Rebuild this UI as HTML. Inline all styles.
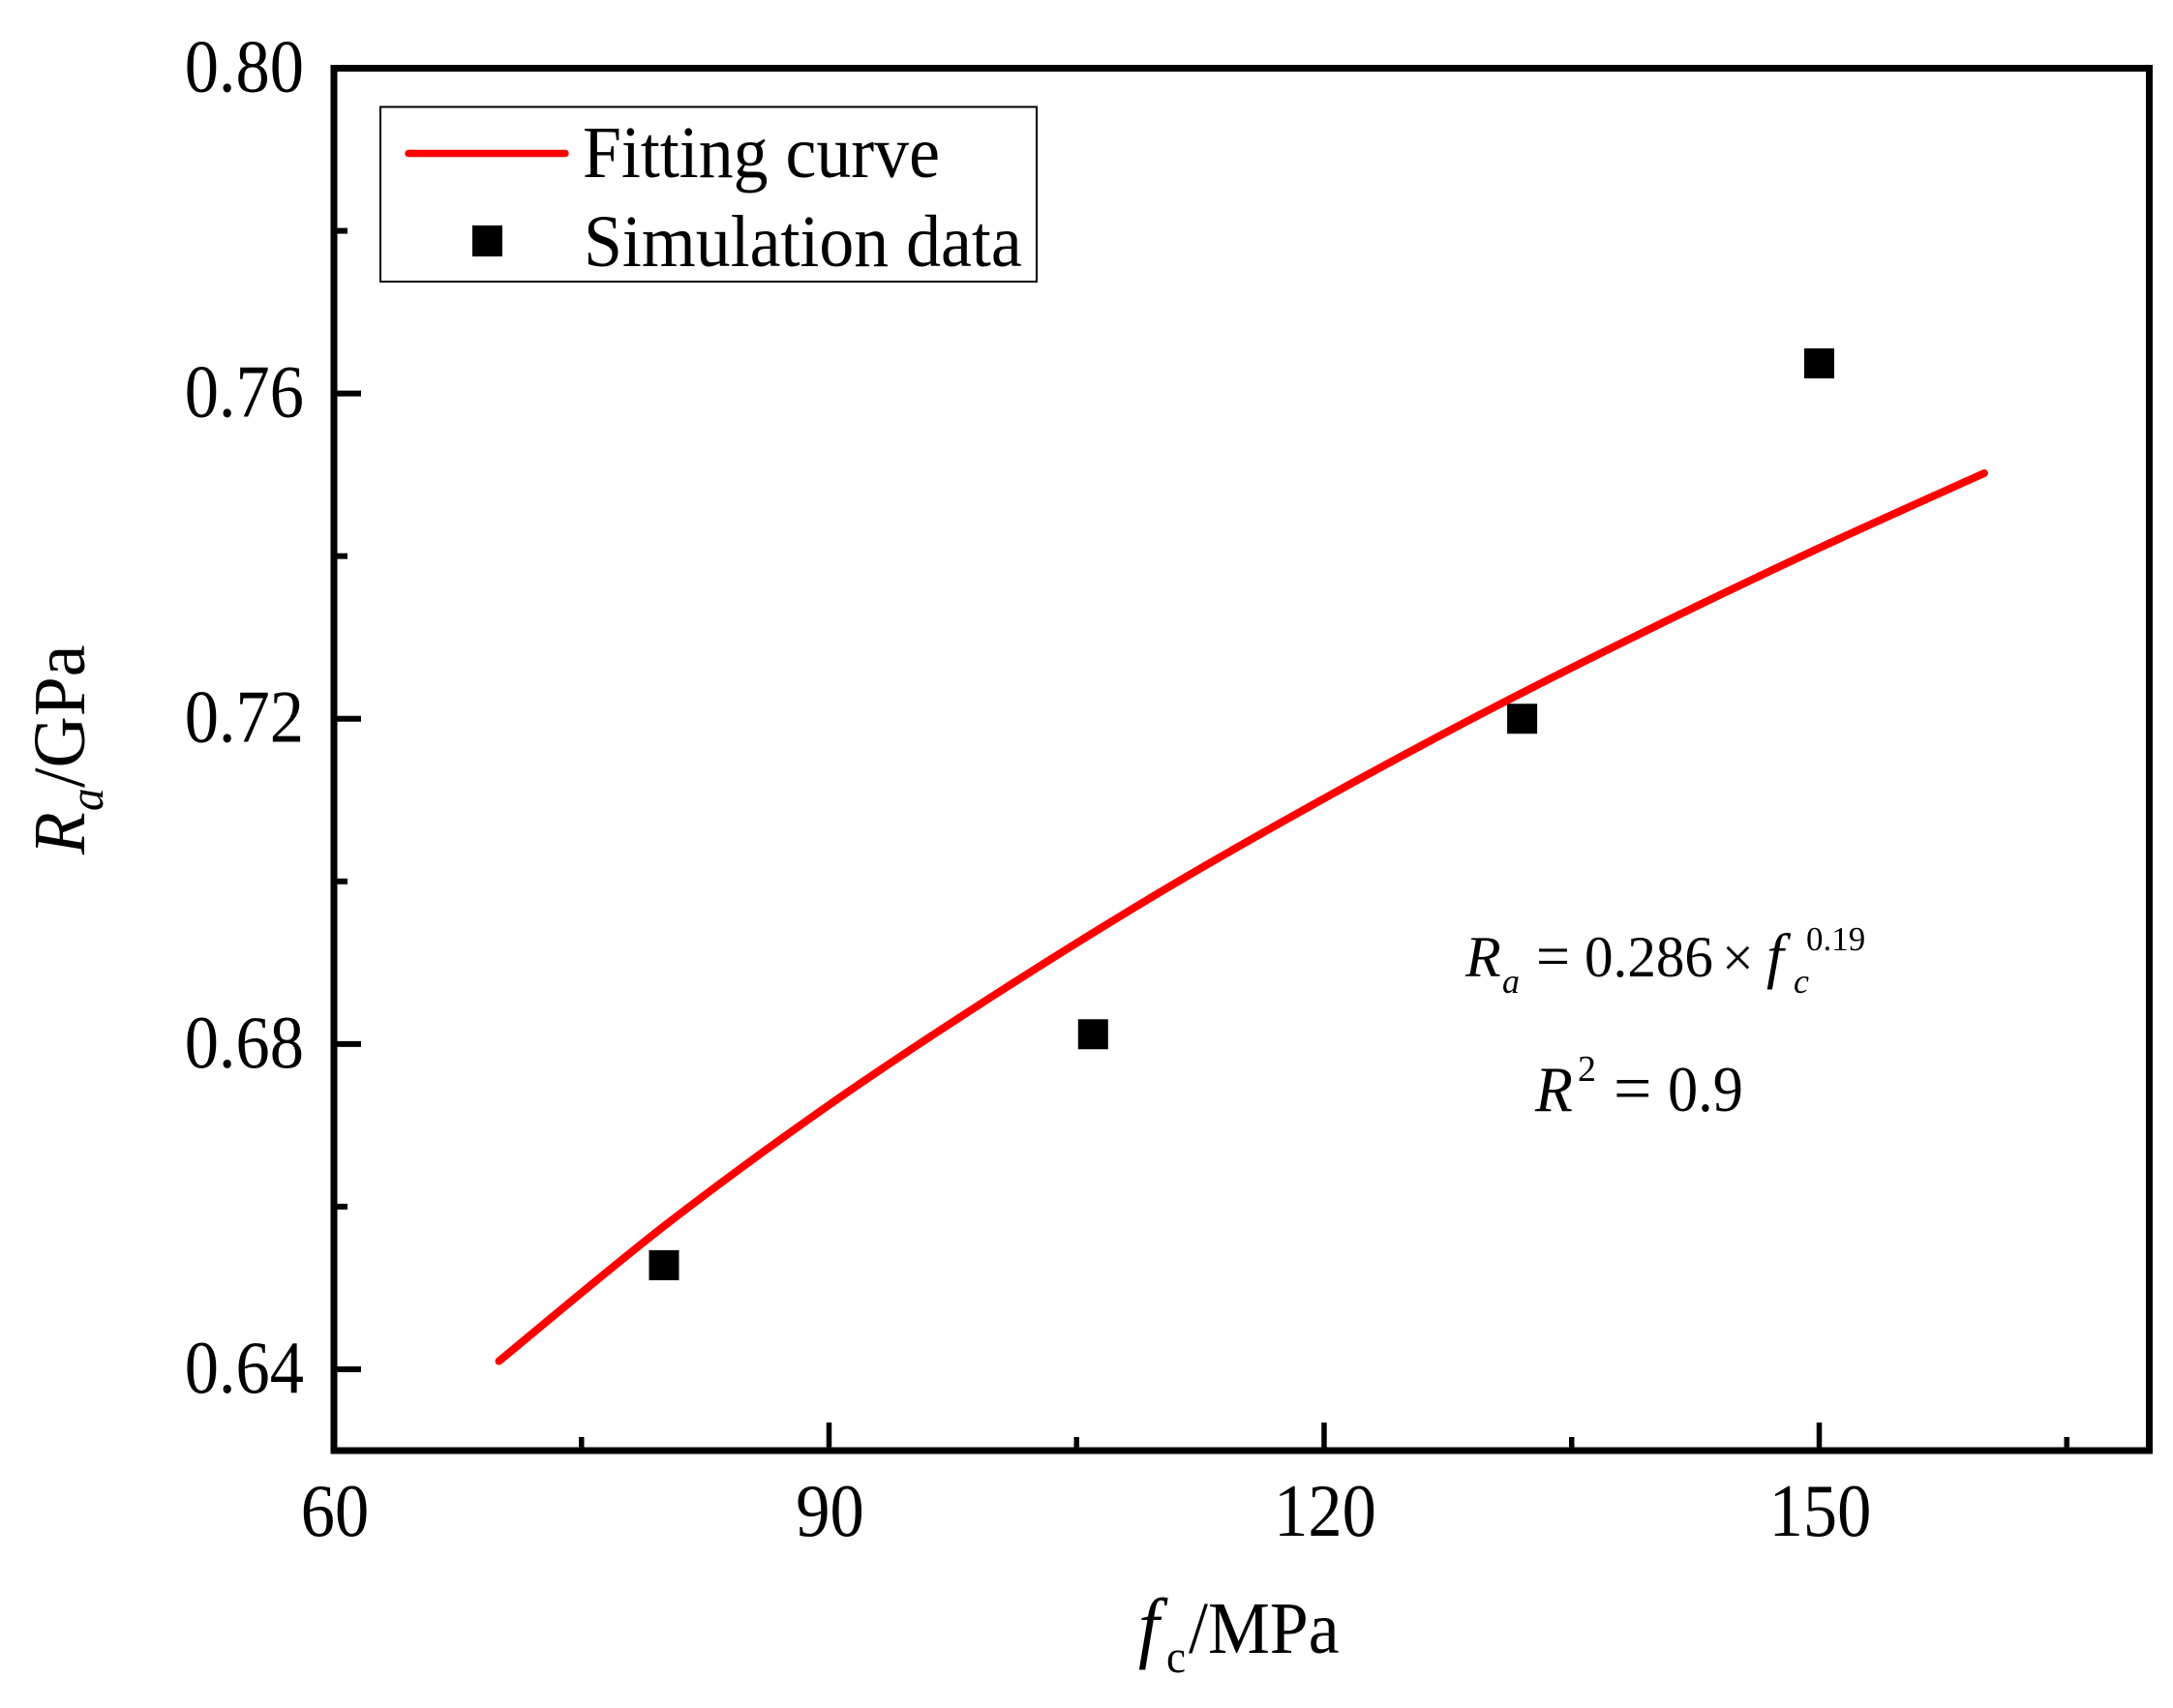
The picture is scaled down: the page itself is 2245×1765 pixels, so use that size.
<!DOCTYPE html>
<html lang="en">
<head>
<meta charset="utf-8">
<title>Ra vs fc fitting chart</title>
<style>
html,body{margin:0;padding:0;background:#fff;}
svg{display:block;}
text{font-family:"Liberation Serif","Times New Roman",serif;fill:#000;}
</style>
</head>
<body>
<svg id="chart" xmlns="http://www.w3.org/2000/svg" width="2245" height="1765" viewBox="0 0 2245 1765">
  <rect x="0" y="0" width="2245" height="1765" fill="#fff"/>
  <g id="ticks"></g>
  <g id="tick-labels"></g>
  <path id="fit-curve" fill="none" stroke="#ff0000" stroke-width="8" stroke-linecap="round" stroke-linejoin="round"/>
  <g id="points"></g>
  <rect x="345" y="70.5" width="1875.5" height="1428.5" fill="none" stroke="#000" stroke-width="7"/>

  <g>
    <rect x="393" y="110.5" width="678" height="180.5" fill="#fff" stroke="#000" stroke-width="2"/>
    <line x1="422" y1="158.5" x2="584" y2="158.5" stroke="#ff0000" stroke-width="7.5" stroke-linecap="round"/>
    <text transform="translate(602,183) scale(.945,1)" font-size="76">Fitting curve</text>
    <rect x="488" y="233" width="31" height="32" fill="#000"/>
    <text transform="translate(603,275) scale(.945,1)" font-size="76">Simulation data</text>
  </g>

  <g>
    <text transform="translate(1176,1708) scale(.95,1)" font-size="82" font-style="italic">f</text>
    <text transform="translate(1205,1728) scale(.94,1)" font-size="48">c</text>
    <text transform="translate(1228,1708) scale(.945,1)" font-size="76">/MPa</text>
  </g>

  <g>
    <text transform="translate(87,883) rotate(-90) scale(.94,1)" font-size="76" font-style="italic">R</text>
    <text transform="translate(106,838) rotate(-90) scale(.94,1)" font-size="50" font-style="italic">a</text>
    <text transform="translate(87,814) rotate(-90) scale(.97,1)" font-size="76">/GPa</text>
  </g>

  <g>
    <text transform="translate(1514,1009)" font-size="60" font-style="italic">R</text>
    <text transform="translate(1552,1026)" font-size="36" font-style="italic">a</text>
    <text transform="translate(1587,1009)" font-size="62">=</text>
    <text transform="translate(1637,1009) scale(.985,1)" font-size="60">0.286</text>
    <text transform="translate(1779,1009)" font-size="58">×</text>
    <text transform="translate(1825,1009)" font-size="64" font-style="italic">f</text>
    <text transform="translate(1853,1026)" font-size="36" font-style="italic">c</text>
    <text transform="translate(1866,982)" font-size="35">0.19</text>
  </g>

  <g>
    <text transform="translate(1586,1148) scale(.95,1)" font-size="67" font-style="italic">R</text>
    <text transform="translate(1630,1117)" font-size="38">2</text>
    <text transform="translate(1667,1148)" font-size="70">=</text>
    <text transform="translate(1723,1148) scale(.93,1)" font-size="67">0.9</text>
  </g>
</svg>
<script>
// Chart data
const xMajorTicks = [60, 90, 120, 150];
const xMinorTicks = [75, 105, 135, 165];
const yMajorTicks = [0.64, 0.68, 0.72, 0.76, 0.80];
const yMinorTicks = [0.66, 0.70, 0.74, 0.78];
const xTickLabels = ['60', '90', '120', '150'];
const yTickLabels = ['0.64', '0.68', '0.72', '0.76', '0.80'];
const simulationX = [80, 106, 132, 150];
const simulationY = [0.6528, 0.6812, 0.72, 0.7637];
const curveX = [70, 80, 90, 100, 110, 120, 130, 140, 150, 160];
const curveY = [0.641, 0.6576, 0.6725, 0.686, 0.6986, 0.7102, 0.7211, 0.7313, 0.741, 0.7502];

const NS = 'http://www.w3.org/2000/svg';
const xScale = v => 345 + (v - 60) * (2220.5 - 345) / (170 - 60);
const yScale = v => 1499 - (v - 0.63) * (1499 - 70.5) / (0.80 - 0.63);

const ticksGroup = document.getElementById('ticks');
const labelsGroup = document.getElementById('tick-labels');
const pointsGroup = document.getElementById('points');

function addLine(x1, y1, x2, y2, width) {
  const l = document.createElementNS(NS, 'line');
  l.setAttribute('x1', x1);
  l.setAttribute('y1', y1);
  l.setAttribute('x2', x2);
  l.setAttribute('y2', y2);
  l.setAttribute('stroke', '#000');
  l.setAttribute('stroke-width', width);
  ticksGroup.appendChild(l);
  return l;
}

function addLabel(text, x, y, anchor) {
  const t = document.createElementNS(NS, 'text');
  t.setAttribute('transform', 'translate(' + x + ',' + y + ') scale(.915,1)');
  t.setAttribute('font-size', '77');
  t.setAttribute('text-anchor', anchor);
  t.textContent = text;
  labelsGroup.appendChild(t);
  return t;
}

xMajorTicks.forEach((v, i) => {
  const tick = addLine(xScale(v), 1499, xScale(v), 1470, 5.5);
  
  
  const label = addLabel(xTickLabels[i], xScale(v) + 1, 1587, 'middle');
  
  
});
xMinorTicks.forEach(v => {
  const tick = addLine(xScale(v), 1499, xScale(v), 1485, 5.5);
  
  
});
yMajorTicks.forEach((v, i) => {
  const tick = addLine(345, yScale(v), 373, yScale(v), 6);
  
  
  const label = addLabel(yTickLabels[i], 314, yScale(v) + 24, 'end');
  
  
});
yMinorTicks.forEach(v => {
  const tick = addLine(345, yScale(v), 359, yScale(v), 6);
  
  
});

// Smooth path through the read curve values (Catmull-Rom to Bezier)
const pts = curveX.map((v, i) => [xScale(v), yScale(curveY[i])]);
let d = 'M' + pts[0][0] + ' ' + pts[0][1];
for (let i = 0; i < pts.length - 1; i++) {
  const p0 = pts[Math.max(i - 1, 0)];
  const p1 = pts[i];
  const p2 = pts[i + 1];
  const p3 = pts[Math.min(i + 2, pts.length - 1)];
  d += ' C' + (p1[0] + (p2[0] - p0[0]) / 6) + ' ' + (p1[1] + (p2[1] - p0[1]) / 6) +
       ' ' + (p2[0] - (p3[0] - p1[0]) / 6) + ' ' + (p2[1] - (p3[1] - p1[1]) / 6) +
       ' ' + p2[0] + ' ' + p2[1];
}
document.getElementById('fit-curve').setAttribute('d', d);

simulationX.forEach((v, i) => {
  const r = document.createElementNS(NS, 'rect');
  
  
  r.setAttribute('x', xScale(v) - 15.5);
  r.setAttribute('y', yScale(simulationY[i]) - 15.5);
  r.setAttribute('width', 31);
  r.setAttribute('height', 31);
  r.setAttribute('fill', '#000');
  pointsGroup.appendChild(r);
});
</script>
</body>
</html>
